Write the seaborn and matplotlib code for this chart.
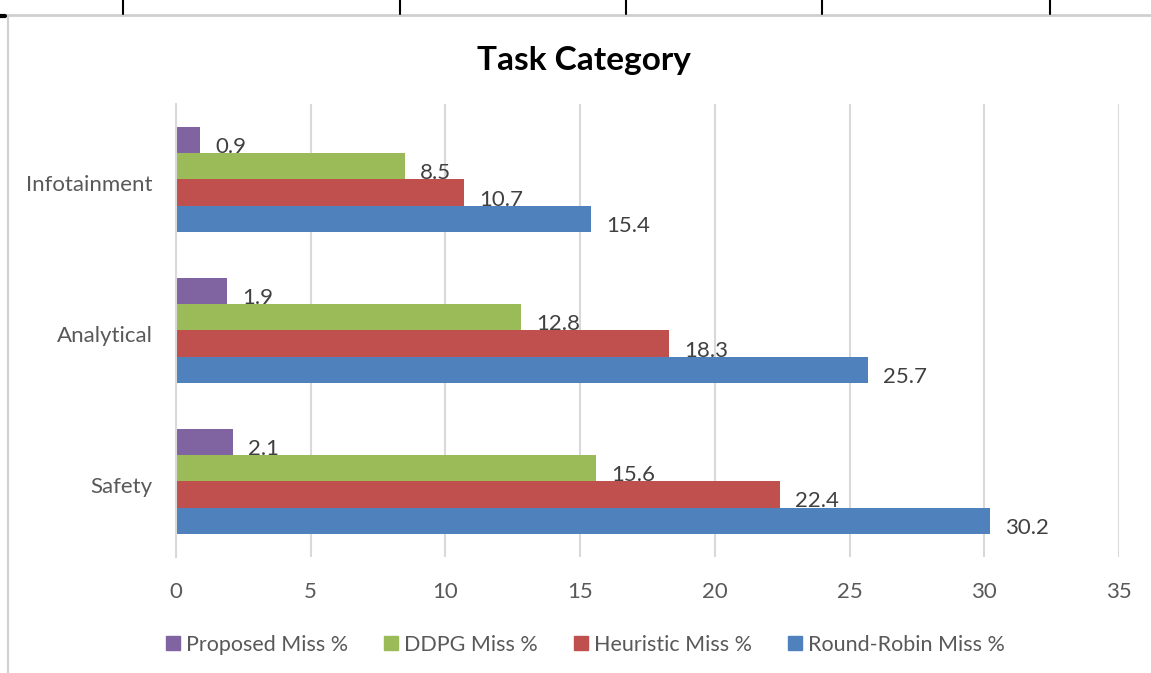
import matplotlib

matplotlib.use("Agg")
import matplotlib.pyplot as plt
import matplotlib.transforms as mtransforms
import pandas
import seaborn as sns
from matplotlib.lines import Line2D

# chart data
categories = ["Infotainment", "Analytical", "Safety"]
series = ["Proposed Miss %", "DDPG Miss %", "Heuristic Miss %", "Round-Robin Miss %"]
proposed = [0.9, 1.9, 2.1]
ddpg = [8.5, 12.8, 15.6]
heuristic = [10.7, 18.3, 22.4]
round_robin = [15.4, 25.7, 30.2]
x_ticks = [0, 5, 10, 15, 20, 25, 30, 35]

colors = ["#8064A2", "#9BBB59", "#C0504D", "#4F81BD"]


def build_frame() -> pandas.DataFrame:
    rows = []
    for name, values in zip(series, [proposed, ddpg, heuristic, round_robin]):
        for cat, val in zip(categories, values):
            rows.append({"category": cat, "series": name, "value": val})
    return pandas.DataFrame(rows)


def main() -> None:
    sns.set_theme(style="white")
    plt.rcParams["font.family"] = ["Lato", "DejaVu Sans"]

    df = build_frame()

    fig = plt.figure(figsize=(11.51, 6.73), dpi=100)
    ax = fig.add_axes([0.1529, 0.1724, 0.8193, 0.6731])

    sns.barplot(
        data=df,
        y="category",
        x="value",
        hue="series",
        order=categories,
        hue_order=series,
        palette=colors,
        width=0.69,
        orient="h",
        saturation=1,
        legend=False,
        linewidth=0,
        ax=ax,
    )

    # value labels right of each bar, a bit below centre
    for container in ax.containers:
        for patch in container:
            w = patch.get_width()
            yc = patch.get_y() + patch.get_height() / 2
            ax.annotate(
                f"{w:.1f}",
                xy=(w, yc),
                xytext=(15, -7),
                textcoords="offset pixels",
                ha="left",
                va="center",
                fontsize=16,
                color="#404040",
            )

    ax.set_xlim(0, 35)
    ax.set_ylim(2.5, -0.5)
    ax.set_xticks(x_ticks)
    ax.set_xlabel("")
    ax.set_ylabel("")
    ax.xaxis.grid(True, color="#D9D9D9", linewidth=1.5)
    ax.set_axisbelow(True)
    for side in ["top", "right", "bottom"]:
        ax.spines[side].set_visible(False)
    ax.spines["left"].set_color("#D9D9D9")
    ax.spines["left"].set_linewidth(1.5)
    ax.tick_params(axis="x", length=0, pad=18, labelsize=16, labelcolor="#595959")
    ax.tick_params(axis="y", length=0, pad=17, labelsize=16, labelcolor="#595959")

    # nudge category labels down a few pixels
    shift = mtransforms.ScaledTranslation(0, -4 / 100, fig.dpi_scale_trans)
    for lbl in ax.get_yticklabels():
        lbl.set_transform(lbl.get_transform() + shift)

    fig.text(0.507, 0.91, "Task Category", ha="center", va="center",
             fontsize=24, fontweight="bold", color="black")

    handles = [
        Line2D([], [], marker="s", linestyle="", markersize=10,
               markerfacecolor=c, markeredgecolor=c)
        for c in colors
    ]
    fig.legend(
        handles,
        series,
        loc="center",
        bbox_to_anchor=(0.509, 0.042),
        ncol=4,
        frameon=False,
        fontsize=15.5,
        labelcolor="#595959",
        handletextpad=0.3,
        columnspacing=1.7,
        handlelength=0.6,
    )

    # spreadsheet cell borders around the chart
    fig.add_artist(Line2D([0, 1], [1 - 15 / 673] * 2, color="#D0D0D0", linewidth=2,
                          transform=fig.transFigure))
    fig.add_artist(Line2D([8 / 1151] * 2, [0, 1 - 15 / 673], color="#D0D0D0", linewidth=1.5,
                          transform=fig.transFigure))
    for px in [123, 400, 626, 822, 1050]:
        fig.add_artist(Line2D([px / 1151] * 2, [1 - 14 / 673, 1], color="black",
                              linewidth=1.5, transform=fig.transFigure))
    fig.add_artist(Line2D([0, 5 / 1151], [1 - 16 / 673] * 2, color="black",
                          linewidth=3, transform=fig.transFigure))

    fig.savefig("out.png", dpi=100)


if __name__ == "__main__":
    main()
